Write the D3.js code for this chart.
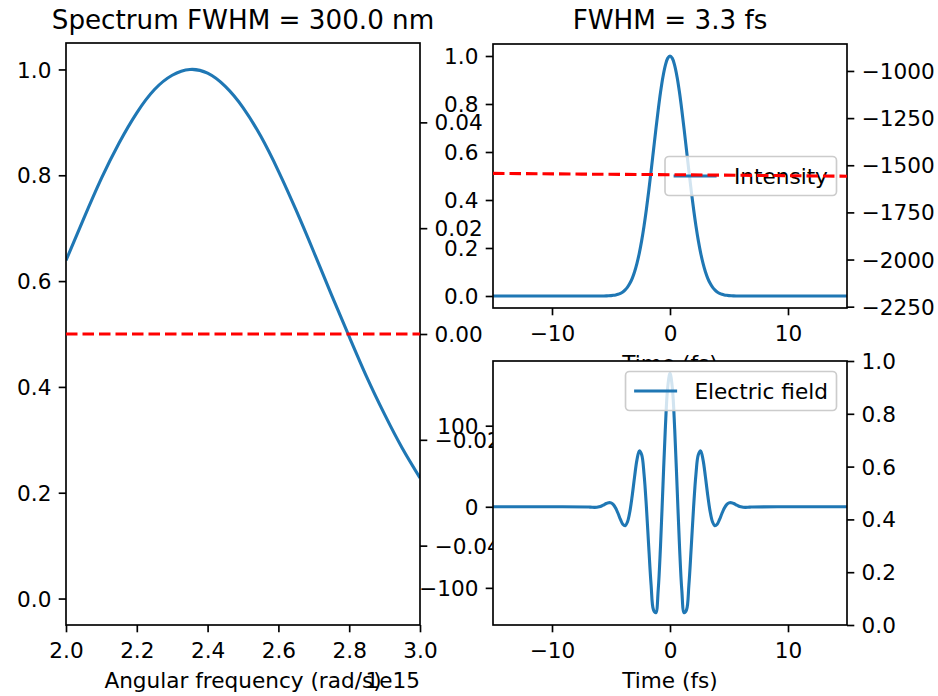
<!DOCTYPE html>
<html>
<head>
<meta charset="utf-8">
<script src="https://cdn.jsdelivr.net/npm/d3@7"></script>
<style>
  html, body { margin: 0; padding: 0; background: #fff; }
  svg { display: block; }
</style>
</head>
<body>
<script>
// ---------------- DATA ----------------
// Spectrum (angular frequency in units of 1e15 rad/s)
const omega = [2.00, 2.05, 2.10, 2.15, 2.20, 2.25, 2.30, 2.35, 2.40, 2.45, 2.50,
               2.55, 2.60, 2.65, 2.70, 2.75, 2.80, 2.85, 2.90, 2.95, 3.00];
const spectrum = [0.639, 0.718, 0.794, 0.861, 0.918, 0.962, 0.989, 1.000, 0.993, 0.968, 0.928,
                  0.874, 0.808, 0.734, 0.655, 0.574, 0.495, 0.418, 0.348, 0.284, 0.228];
const phaseOmega = [2.00, 3.00];
const spectralPhase = [0, 0];

// Time domain (fs)
const timeFs = [-15, -10,
  -7.0, -6.8, -6.6, -6.4, -6.2, -6.0, -5.8, -5.6, -5.4, -5.2, -5.0, -4.8, -4.6, -4.4, -4.2,
  -4.0, -3.8, -3.6, -3.4, -3.2, -3.0, -2.8, -2.6, -2.4, -2.2, -2.0, -1.8, -1.6, -1.4, -1.2,
  -1.0, -0.8, -0.6, -0.4, -0.2, 0.0, 0.2, 0.4, 0.6, 0.8, 1.0, 1.2, 1.4, 1.6, 1.8, 2.0,
  2.2, 2.4, 2.6, 2.8, 3.0, 3.2, 3.4, 3.6, 3.8, 4.0, 4.2, 4.4, 4.6, 4.8, 5.0, 5.2, 5.4,
  5.6, 5.8, 6.0, 6.2, 6.4, 6.6, 6.8, 7.0,
  10, 15];
const intensity = [0, 0,
  0, 0, 0, 0, 0, 0.0001, 0.0002, 0.0003, 0.0006, 0.0010, 0.0017, 0.0028, 0.0046, 0.0072, 0.0112,
  0.0170, 0.0253, 0.0369, 0.0527, 0.0737, 0.1011, 0.1359, 0.1789, 0.2307, 0.2916, 0.3612, 0.4383, 0.5211, 0.6071, 0.6931,
  0.7752, 0.8496, 0.9124, 0.9601, 0.9899, 1.0, 0.9899, 0.9601, 0.9124, 0.8496, 0.7752, 0.6931, 0.6071, 0.5211, 0.4383, 0.3612,
  0.2916, 0.2307, 0.1789, 0.1359, 0.1011, 0.0737, 0.0527, 0.0369, 0.0253, 0.0170, 0.0112, 0.0072, 0.0046, 0.0028, 0.0017, 0.0010, 0.0006,
  0.0003, 0.0002, 0.0001, 0, 0, 0, 0, 0,
  0, 0];
const field = [0, 0,
  -0.2, -0.4, -0.6, -0.7, -0.6, 0.0, 1.0, 2.5, 4.0, 5.0, 4.8, 2.7, -1.8, -8.3, -15.6,
  -21.5, -23.3, -18.5, -5.8, 14.0, 37.2, 57.9, 68.9, 64.2, 40.4, -0.2, -49.9, -96.6, -127.1, -130.6,
  -102.6, -46.9, 24.8, 95.1, 146.3, 165.0, 146.3, 95.1, 24.8, -46.9, -102.6, -130.6, -127.1, -96.6, -49.9, -0.2,
  40.4, 64.2, 68.9, 57.9, 37.2, 14.0, -5.8, -18.5, -23.3, -21.5, -15.6, -8.3, -1.8, 2.7, 4.8, 5.0, 4.0,
  2.5, 1.0, 0.0, -0.6, -0.7, -0.6, -0.4, -0.2,
  0, 0];
const phaseTime = [-15, -7.5, 0, 7.5, 15];
const temporalPhase = [-1543, -1547, -1550, -1554, -1558];

// Ticks / labels
const specXTicks = [2.0, 2.2, 2.4, 2.6, 2.8, 3.0];
const unitTicks = [0.0, 0.2, 0.4, 0.6, 0.8, 1.0];
const specPhaseTicks = [-0.04, -0.02, 0.00, 0.02, 0.04];
const timeTicks = [-10, 0, 10];
const tPhaseTicks = [-2250, -2000, -1750, -1500, -1250, -1000];
const fieldTicks = [-100, 0, 100];
const titleLeft = "Spectrum FWHM = 300.0 nm";
const titleRight = "FWHM = 3.3 fs";
const xLabelLeft = "Angular frequency (rad/s)";
const xOffsetLeft = "1e15";
const xLabelTime = "Time (fs)";
const legendIntensity = "Intensity";
const legendField = "Electric field";

// ---------------- LAYOUT ----------------
const W = 938, H = 696;
const FONT = "DejaVu Sans";
const FS = 21.6, TFS = 26.2;
const BLUE = "#1f77b4", RED = "#ff0000";
const LW = 3.1, SW = 1.67, TL = 7.3, TP = 7.3;

const L  = {x0: 66,  x1: 420, y0: 43,  y1: 625};
const UR = {x0: 493, x1: 847, y0: 44,  y1: 308};
const LR = {x0: 493, x1: 847, y0: 361, y1: 625};

const svg = d3.select("body").append("svg").attr("width", W).attr("height", H);
svg.append("rect").attr("width", W).attr("height", H).attr("fill", "#fff");
const defs = svg.append("defs");
let clipN = 0;

function patch(b) {
  svg.append("rect").attr("x", b.x0).attr("y", b.y0)
    .attr("width", b.x1 - b.x0).attr("height", b.y1 - b.y0).attr("fill", "#fff");
}
function clipped(b) {
  const id = "clip" + (clipN++);
  defs.append("clipPath").attr("id", id).append("rect")
    .attr("x", b.x0).attr("y", b.y0).attr("width", b.x1 - b.x0).attr("height", b.y1 - b.y0);
  return svg.append("g").attr("clip-path", `url(#${id})`);
}
function spines(b) {
  svg.append("rect").attr("x", b.x0).attr("y", b.y0)
    .attr("width", b.x1 - b.x0).attr("height", b.y1 - b.y0)
    .attr("fill", "none").attr("stroke", "#000").attr("stroke-width", SW);
}
function axis(orient, scale, vals, fmt, tx, ty) {
  const gen = {left: d3.axisLeft, right: d3.axisRight, bottom: d3.axisBottom}[orient];
  const g = svg.append("g").attr("transform", `translate(${tx},${ty})`)
    .call(gen(scale).tickValues(vals).tickFormat(fmt).tickSize(TL).tickPadding(TP));
  g.select(".domain").remove();
  g.attr("font-size", FS).attr("font-family", FONT);
  g.selectAll(".tick line").attr("stroke", "#000").attr("stroke-width", SW);
  g.selectAll(".tick text").attr("fill", "#000").attr("dy", orient === "bottom" ? "0.86em" : "0.35em");
  return g;
}
function text(x, y, s, size, anchor) {
  return svg.append("text").attr("x", x).attr("y", y).text(s)
    .attr("font-family", FONT).attr("font-size", size).attr("fill", "#000")
    .attr("text-anchor", anchor || "middle");
}
function legend(b, label, loc) {
  const g = svg.append("g");
  const t = g.append("text").text(label).attr("font-family", FONT).attr("font-size", FS).attr("fill", "#000");
  const tw = t.node().getComputedTextLength();
  const pad = 8.6, hl = 43, htp = 17.3, bap = 10.5, h = 39;
  const w = pad + hl + htp + tw + pad;
  const x = b.x1 - bap - w;
  const y = loc === "center right" ? (b.y0 + b.y1) / 2 - h / 2 : b.y0 + bap;
  g.insert("rect", "text").attr("x", x).attr("y", y).attr("width", w).attr("height", h)
    .attr("rx", 4).attr("ry", 4).attr("fill", "#fff").attr("fill-opacity", 0.8)
    .attr("stroke", "#cccccc").attr("stroke-width", 1.67);
  g.insert("line", "text").attr("x1", x + pad).attr("x2", x + pad + hl)
    .attr("y1", y + h / 2).attr("y2", y + h / 2).attr("stroke", BLUE).attr("stroke-width", LW);
  t.attr("x", x + pad + hl + htp).attr("y", y + h / 2).attr("dy", "0.36em");
}

const fmt1 = d3.format(".1f"), fmt2 = d3.format(".2f"), fmt0 = d3.format("d");

// ---------------- LEFT: spectrum ----------------
const xL = d3.scaleLinear().domain([2.0, 3.0]).range([L.x0, L.x1]);
const yL = d3.scaleLinear().domain([-0.05, 1.05]).range([L.y1, L.y0]);
patch(L);
clipped(L).append("path")
  .attr("d", d3.line().x((d, i) => xL(omega[i])).y(d => yL(d)).curve(d3.curveNatural)(spectrum))
  .attr("fill", "none").attr("stroke", BLUE).attr("stroke-width", LW);
spines(L);
axis("left", yL, unitTicks, fmt1, L.x0, 0);
axis("bottom", xL, specXTicks, fmt1, 0, L.y1);
text((L.x0 + L.x1) / 2, 29, titleLeft, TFS);
text((L.x0 + L.x1) / 2, L.y1 + 63, xLabelLeft, FS);
text(L.x1, L.y1 + 63, xOffsetLeft, FS, "end");

// left twin: spectral phase
const yLt = d3.scaleLinear().domain([-0.055, 0.055]).range([L.y1, L.y0]);
clipped(L).append("path")
  .attr("d", d3.line().x((d, i) => xL(phaseOmega[i])).y(d => yLt(d))(spectralPhase))
  .attr("fill", "none").attr("stroke", RED).attr("stroke-width", LW).attr("stroke-dasharray", "11.5,5");
axis("right", yLt, specPhaseTicks, fmt2, L.x1, 0);

// ---------------- UPPER RIGHT: intensity ----------------
const xT1 = d3.scaleLinear().domain([-15, 15]).range([UR.x0, UR.x1]);
const yI = d3.scaleLinear().domain([-0.05, 1.05]).range([UR.y1, UR.y0]);
patch(UR);
clipped(UR).append("path")
  .attr("d", d3.line().x((d, i) => xT1(timeFs[i])).y(d => yI(d)).curve(d3.curveCatmullRom.alpha(0.5))(intensity))
  .attr("fill", "none").attr("stroke", BLUE).attr("stroke-width", LW);
spines(UR);
axis("left", yI, unitTicks, fmt1, UR.x0, 0);
axis("bottom", xT1, timeTicks, fmt0, 0, UR.y1);
text((UR.x0 + UR.x1) / 2, 29, titleRight, TFS);
text((UR.x0 + UR.x1) / 2, UR.y1 + 63, xLabelTime, FS);
legend(UR, legendIntensity, "center right");

// upper-right twin: temporal phase
const yP = d3.scaleLinear().domain([-2257, -857]).range([UR.y1, UR.y0]);
clipped(UR).append("path")
  .attr("d", d3.line().x((d, i) => xT1(phaseTime[i])).y(d => yP(d))(temporalPhase))
  .attr("fill", "none").attr("stroke", RED).attr("stroke-width", LW).attr("stroke-dasharray", "11.5,5");
axis("right", yP, tPhaseTicks, fmt0, UR.x1, 0);

// ---------------- LOWER RIGHT: electric field ----------------
const xT2 = d3.scaleLinear().domain([-15, 15]).range([LR.x0, LR.x1]);
const yE = d3.scaleLinear().domain([-145.8, 179.8]).range([LR.y1, LR.y0]);
patch(LR);
clipped(LR).append("path")
  .attr("d", d3.line().x((d, i) => xT2(timeFs[i])).y(d => yE(d)).curve(d3.curveCatmullRom.alpha(0.5))(field))
  .attr("fill", "none").attr("stroke", BLUE).attr("stroke-width", LW);
spines(LR);
axis("left", yE, fieldTicks, fmt0, LR.x0, 0);
axis("bottom", xT2, timeTicks, fmt0, 0, LR.y1);
text((LR.x0 + LR.x1) / 2, LR.y1 + 63, xLabelTime, FS);
legend(LR, legendField, "upper right");

// lower-right twin (empty)
const yR = d3.scaleLinear().domain([0, 1]).range([LR.y1, LR.y0]);
axis("right", yR, unitTicks, fmt1, LR.x1, 0);
</script>
</body>
</html>
